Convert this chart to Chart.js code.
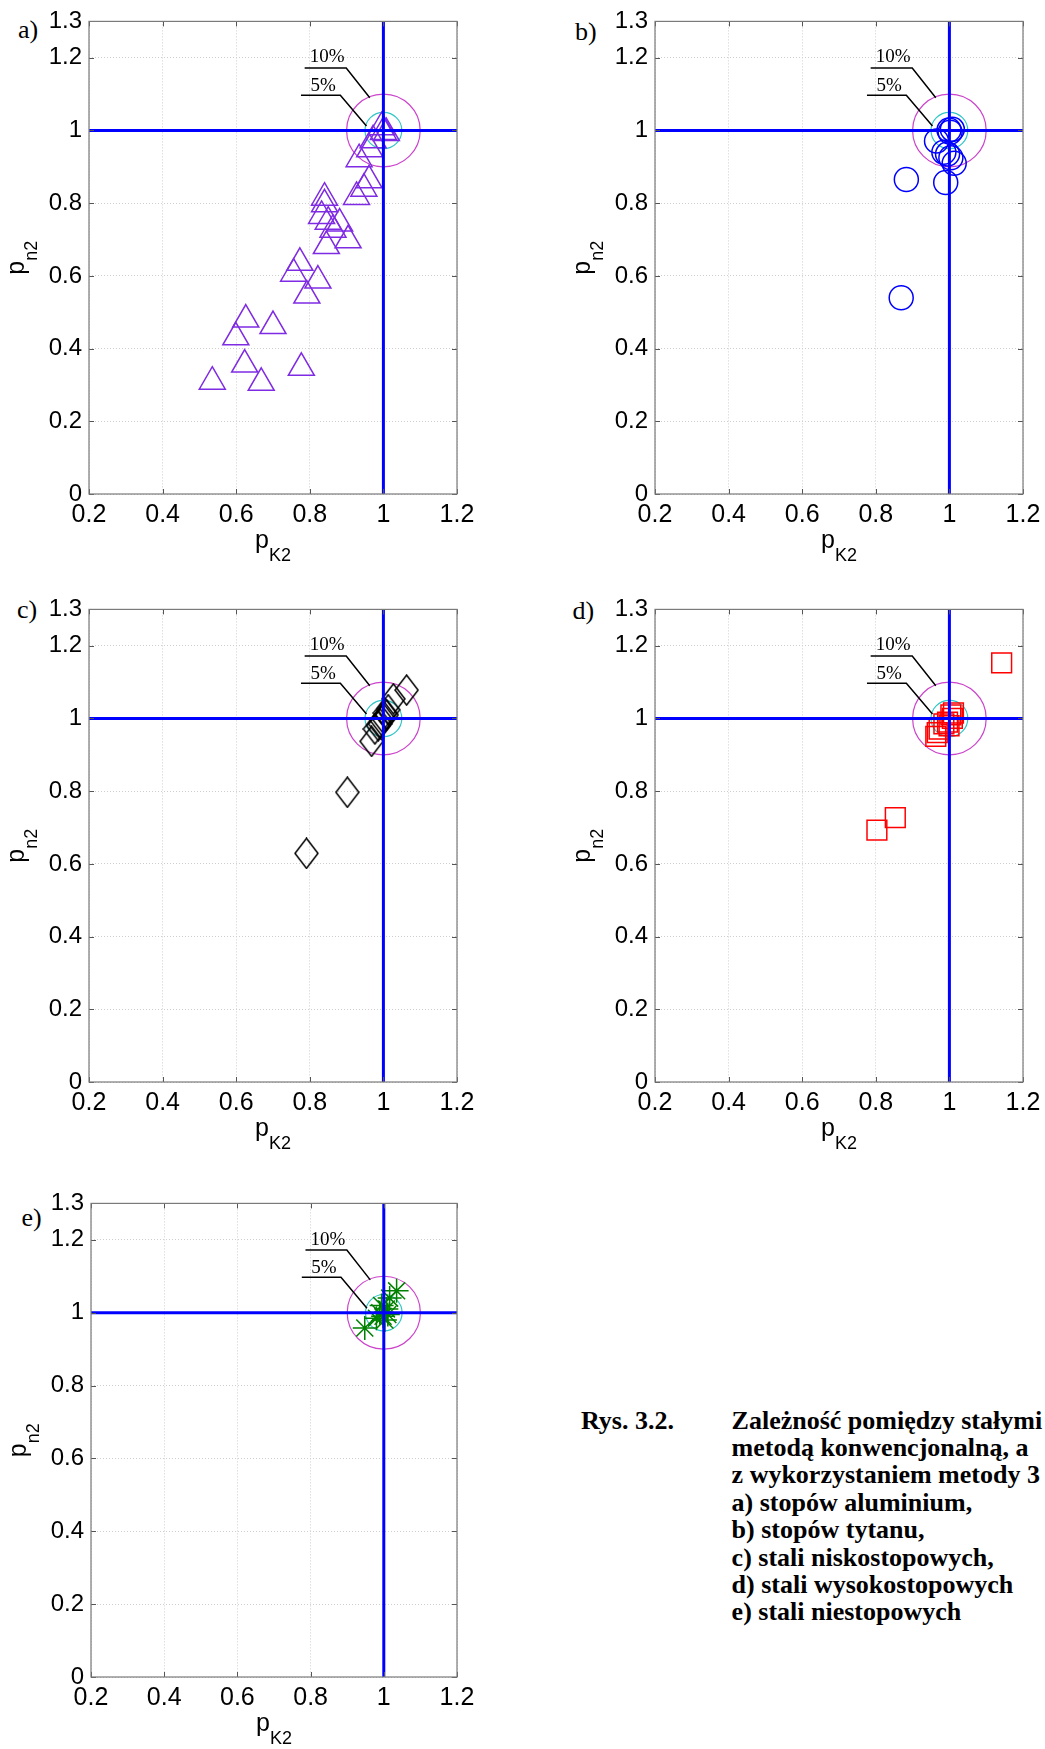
<!DOCTYPE html>
<html>
<head>
<meta charset="utf-8">
<script src="https://cdn.jsdelivr.net/npm/chart.js@4.4.1/dist/chart.umd.min.js"></script>
<style>
  html, body { margin: 0; padding: 0; background: #fff; }
  body { width: 1045px; height: 1749px; position: relative; overflow: hidden; }
  canvas { position: absolute; }
  .lbl { position: absolute; font-family: "Liberation Serif", "Times New Roman", serif; font-size: 26px; line-height: 26px; white-space: nowrap; color: #000; }
  .cap { position: absolute; font-family: "Liberation Serif", "Times New Roman", serif; font-weight: bold; font-size: 26px; line-height: 27.4px; white-space: nowrap; color: #000; }
</style>
</head>
<body>
<div class="lbl" style="left:18px;top:16.7px">a)</div>
<div class="lbl" style="left:575px;top:19.2px">b)</div>
<div class="lbl" style="left:17px;top:597.2px">c)</div>
<div class="lbl" style="left:572.5px;top:598.2px">d)</div>
<div class="lbl" style="left:21.5px;top:1205.2px">e)</div>

<div class="cap" style="left:581px;top:1406.6px">Rys. 3.2.</div>
<div class="cap" style="left:731.6px;top:1406.6px">
  Zależność pomiędzy stałymi<br>
  metodą konwencjonalną, a<br>
  z wykorzystaniem metody 3<br>
  a) stopów aluminium,<br>
  b) stopów tytanu,<br>
  c) stali niskostopowych,<br>
  d) stali wysokostopowych<br>
  e) stali niestopowych
</div>

<script>
// ---- axis ticks ----
const xTicks = [0.2, 0.4, 0.6, 0.8, 1, 1.2];
const xTickLabels = ['0.2', '0.4', '0.6', '0.8', '1', '1.2'];
const yTicks = [0, 0.2, 0.4, 0.6, 0.8, 1, 1.2, 1.3];
const yTickLabels = ['0', '0.2', '0.4', '0.6', '0.8', '1', '1.2', '1.3'];

// ---- a) stopy aluminium ----
const alX = [0.535, 0.623, 0.668, 0.777, 0.599, 0.626, 0.700, 0.773, 0.756, 0.822, 0.792, 0.840, 0.840, 0.832,
             0.850, 0.863, 0.881, 0.845, 0.904, 0.927, 0.947, 0.961, 0.934, 0.963, 0.972, 0.995, 1.000, 1.008];
const alY = [0.309, 0.356, 0.306, 0.347, 0.431, 0.480, 0.462, 0.636, 0.606, 0.587, 0.546, 0.815, 0.797, 0.765,
             0.749, 0.727, 0.744, 0.682, 0.698, 0.817, 0.840, 0.863, 0.921, 0.948, 0.973, 1.009, 0.996, 0.993];

// ---- b) stopy tytanu ----
const tiX = [0.869, 0.883, 0.990, 1.013, 0.995, 0.985, 0.965, 0.999, 1.008, 1.002, 1.004];
const tiY = [0.540, 0.865, 0.857, 0.910, 0.935, 0.940, 0.971, 1.001, 1.003, 0.995, 0.925];

// ---- c) stale niskostopowe ----
const lowX = [0.791, 0.902, 1.063, 1.027, 0.968, 0.977, 0.991, 1.000, 1.009, 0.995, 1.004, 0.986, 1.013];
const lowY = [0.629, 0.797, 1.078, 1.054, 0.937, 0.971, 0.985, 1.000, 1.010, 0.995, 1.015, 0.980, 1.024];

// ---- d) stale wysokostopowe ----
const hiX = [0.803, 0.853, 1.142, 0.963, 0.967, 0.972, 0.995, 1.004, 1.008, 0.999, 0.985, 1.011];
const hiY = [0.693, 0.727, 1.153, 0.951, 0.961, 0.971, 0.990, 1.010, 1.000, 0.980, 0.985, 1.015];

// ---- e) stale niestopowe ----
const nonX = [0.948, 1.035, 1.016, 0.998, 0.989, 1.007, 1.003, 0.980, 1.011, 0.994];
const nonY = [0.958, 1.060, 1.040, 0.990, 1.000, 1.010, 0.980, 0.985, 0.995, 1.020];

// nominal ratio and tolerance bands
const nominal = 1;
const tolerances = [
  { r: 0.10, color: '#cc44cc' },
  { r: 0.05, color: '#33c6c6' }
];
// labelled leaders for the tolerance circles (data coordinates)
const leaders = [
  { text: '10%', tx: 0.800, ty: 1.187, path: [[0.786, 1.172], [0.899, 1.172], [0.963, 1.090]] },
  { text: '5%',  tx: 0.802, ty: 1.109, path: [[0.776, 1.097], [0.883, 1.097], [0.954, 1.012]] }
];

const xMin = 0.2, xMax = 1.2, yMin = 0, yMax = 1.3;

function pts(xs, ys) { return xs.map((v, i) => ({ x: v, y: ys[i] })); }

// MATLAB-style tall diamond marker
function diamondMarker(w, h, color) {
  const c = document.createElement('canvas');
  c.width = w; c.height = h;
  const g = c.getContext('2d');
  g.strokeStyle = color; g.lineWidth = 1.5;
  g.beginPath();
  g.moveTo(w / 2, 1); g.lineTo(w - 1, h / 2); g.lineTo(w / 2, h - 1); g.lineTo(1, h / 2); g.closePath();
  g.stroke();
  return c;
}

const FONT_SANS = '"Liberation Sans", Arial, Helvetica, sans-serif';
const FONT_SERIF = '"Liberation Serif", "Times New Roman", serif';

function drawSubscripted(ctx, main, sub, mainSize, subSize, subDrop) {
  ctx.font = mainSize + 'px ' + FONT_SANS;
  const w1 = ctx.measureText(main).width;
  ctx.font = subSize + 'px ' + FONT_SANS;
  const w2 = ctx.measureText(sub).width;
  const start = -(w1 + w2) / 2;
  ctx.textAlign = 'left';
  ctx.textBaseline = 'alphabetic';
  ctx.font = mainSize + 'px ' + FONT_SANS;
  ctx.fillText(main, start, 0);
  ctx.font = subSize + 'px ' + FONT_SANS;
  ctx.fillText(sub, start + w1, subDrop);
}

const decor = {
  id: 'decor',
  beforeDatasetsDraw(chart) {
    const { ctx, chartArea: a, scales: { x, y } } = chart;
    ctx.save();
    ctx.beginPath();
    ctx.rect(a.left, a.top, a.right - a.left, a.bottom - a.top);
    ctx.clip();
    const cx = x.getPixelForValue(nominal), cy = y.getPixelForValue(nominal);
    tolerances.forEach(t => {
      const rx = x.getPixelForValue(nominal + t.r) - cx;
      const ry = cy - y.getPixelForValue(nominal + t.r);
      ctx.beginPath();
      ctx.ellipse(cx, cy, rx, ry, 0, 0, Math.PI * 2);
      ctx.strokeStyle = t.color;
      ctx.lineWidth = 1.2;
      ctx.stroke();
    });
    leaders.forEach(l => {
      ctx.beginPath();
      l.path.forEach((p, i) => {
        const px = x.getPixelForValue(p[0]), py = y.getPixelForValue(p[1]);
        if (i === 0) ctx.moveTo(px, py); else ctx.lineTo(px, py);
      });
      ctx.strokeStyle = '#000';
      ctx.lineWidth = 1.5;
      ctx.stroke();
      ctx.fillStyle = '#000';
      ctx.font = '19px ' + FONT_SERIF;
      ctx.textAlign = 'left';
      ctx.textBaseline = 'alphabetic';
      ctx.fillText(l.text, x.getPixelForValue(l.tx), y.getPixelForValue(l.ty));
    });
    ctx.restore();
  },
  afterDraw(chart) {
    const { ctx, chartArea: a, scales: { x, y } } = chart;
    ctx.save();
    // inward tick marks on all four sides
    ctx.strokeStyle = '#555';
    ctx.lineWidth = 1;
    const tl = 5;
    ctx.beginPath();
    xTicks.forEach(v => {
      const px = Math.round(x.getPixelForValue(v)) + 0.5;
      ctx.moveTo(px, a.bottom); ctx.lineTo(px, a.bottom - tl);
      ctx.moveTo(px, a.top); ctx.lineTo(px, a.top + tl);
    });
    yTicks.forEach(v => {
      const py = Math.round(y.getPixelForValue(v)) + 0.5;
      ctx.moveTo(a.left, py); ctx.lineTo(a.left + tl, py);
      ctx.moveTo(a.right, py); ctx.lineTo(a.right - tl, py);
    });
    ctx.stroke();
    // box
    ctx.strokeStyle = '#7a7a7a';
    ctx.lineWidth = 1.2;
    ctx.strokeRect(a.left, a.top, a.right - a.left, a.bottom - a.top);
    // axis titles
    ctx.fillStyle = '#000';
    ctx.save();
    ctx.translate((a.left + a.right) / 2, a.bottom + 54);
    drawSubscripted(ctx, 'p', 'K2', 25, 18, 13);
    ctx.restore();
    ctx.save();
    ctx.translate(a.left - 65, (a.top + a.bottom) / 2);
    ctx.rotate(-Math.PI / 2);
    drawSubscripted(ctx, 'p', 'n2', 25, 18, 13);
    ctx.restore();
    ctx.restore();
  }
};

function refLines() {
  return [
    { data: [{ x: xMin, y: nominal }, { x: xMax, y: nominal }], showLine: true, borderColor: '#0000ff',
      borderWidth: 3, pointRadius: 0, pointHoverRadius: 0 },
    { data: [{ x: nominal, y: yMin }, { x: nominal, y: yMax }], showLine: true, borderColor: '#0000ff',
      borderWidth: 3, pointRadius: 0, pointHoverRadius: 0 }
  ];
}

function markerSet(data, style, radius, color) {
  return {
    data,
    showLine: false,
    pointStyle: style,
    pointRadius: radius,
    pointHoverRadius: radius,
    pointBorderColor: color,
    pointBackgroundColor: 'rgba(0,0,0,0)',
    pointBorderWidth: 1.5,
    borderColor: color,
    backgroundColor: 'rgba(0,0,0,0)'
  };
}

function makePanel(p) {
  const w = p.W + 88 + 45, h = p.H + 18 + 72;
  const cv = document.createElement('canvas');
  cv.width = w; cv.height = h;
  cv.style.left = (p.L - 88) + 'px';
  cv.style.top = (p.T - 18) + 'px';
  cv.style.width = w + 'px';
  cv.style.height = h + 'px';
  document.body.appendChild(cv);

  new Chart(cv, {
    type: 'scatter',
    data: { datasets: [...refLines(), p.markers] },
    options: {
      responsive: false,
      animation: false,
      devicePixelRatio: 1,
      layout: { padding: { left: 0, top: 18, right: 45, bottom: 0 } },
      plugins: { legend: { display: false }, tooltip: { enabled: false } },
      scales: {
        x: {
          type: 'linear', min: xMin, max: xMax,
          afterBuildTicks: s => { s.ticks = xTicks.map(v => ({ value: v })); },
          afterFit: s => { s.height = 72; },
          ticks: { autoSkip: false, maxRotation: 0, padding: 6, color: '#000',
                   font: { family: FONT_SANS, size: 25 },
                   callback: (v, i) => xTickLabels[i] },
          grid: { color: '#cfcfcf', lineWidth: 1, drawTicks: false },
          border: { display: false, dash: [1, 2] }
        },
        y: {
          type: 'linear', min: yMin, max: yMax,
          afterBuildTicks: s => { s.ticks = yTicks.map(v => ({ value: v })); },
          afterFit: s => { s.width = 88; },
          ticks: { autoSkip: false, padding: 7, color: '#000',
                   font: { family: FONT_SANS, size: 24 },
                   callback: (v, i) => yTickLabels[i] },
          grid: { color: '#cfcfcf', lineWidth: 1, drawTicks: false },
          border: { display: false, dash: [1, 2] }
        }
      }
    },
    plugins: [decor]
  });
}

const panels = [
  { L: 89,  T: 18,   W: 368, H: 476, markers: markerSet(pts(alX, alY), 'triangle', 15, '#7f2be3') },
  { L: 655, T: 18,   W: 368, H: 476, markers: markerSet(pts(tiX, tiY), 'circle', 12, '#0000ff') },
  { L: 89,  T: 606,  W: 368, H: 476, markers: markerSet(pts(lowX, lowY), diamondMarker(25, 32, '#000'), 12, '#000') },
  { L: 655, T: 606,  W: 368, H: 476, markers: markerSet(pts(hiX, hiY), 'rect', 14, '#ff0000') },
  { L: 91,  T: 1200, W: 366, H: 477, markers: markerSet(pts(nonX, nonY), 'star', 12, '#008000') }
];

panels.forEach(makePanel);
</script>
</body>
</html>
